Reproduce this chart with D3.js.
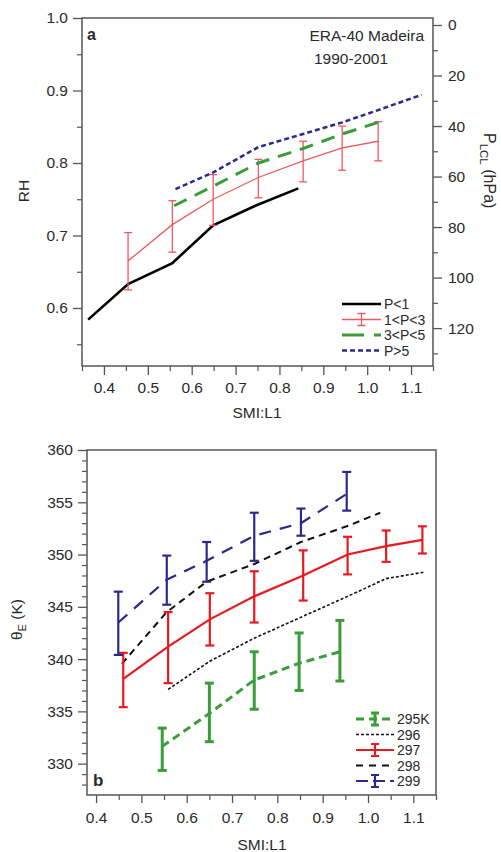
<!DOCTYPE html>
<html>
<head>
<meta charset="utf-8">
<script src="https://cdn.jsdelivr.net/npm/d3@7"></script>
<style>
  body { margin: 0; background: #fff; }
  svg text { font-family: 'Liberation Sans', Arial, sans-serif; fill: #2a2a2a; }
</style>
</head>
<body>
<script>
// ---- panel a: RH vs SMI:L1, split by precip class ----
const aP1X = [0.364, 0.455, 0.556, 0.649, 0.745, 0.843];
const aP1Y = [0.584, 0.633, 0.662, 0.714, 0.741, 0.765];

const aP13X = [0.455, 0.556, 0.649, 0.752, 0.854, 0.943, 1.025];
const aP13Y = [0.665, 0.715, 0.750, 0.780, 0.803, 0.821, 0.830];
const aP13Lo = [0.625, 0.677, 0.714, 0.752, 0.774, 0.790, 0.803];
const aP13Hi = [0.704, 0.748, 0.784, 0.805, 0.830, 0.851, 0.857];

const aP35X = [0.560, 0.649, 0.752, 0.854, 0.943, 1.025];
const aP35Y = [0.741, 0.768, 0.800, 0.820, 0.840, 0.856];

const aP5X = [0.563, 0.649, 0.752, 0.854, 0.943, 1.025, 1.124];
const aP5Y = [0.764, 0.787, 0.822, 0.840, 0.856, 0.873, 0.894];

const aLegend = ['P<1', '1<P<3', '3<P<5', 'P>5'];
const aXTicks = [0.4, 0.5, 0.6, 0.7, 0.8, 0.9, 1.0, 1.1];
const aYTicks = [0.6, 0.7, 0.8, 0.9, 1.0];
const aPTicks = [0, 20, 40, 60, 80, 100, 120];

// ---- panel b: theta_E vs SMI:L1, split by SST ----
const b295X = [0.546, 0.650, 0.749, 0.848, 0.938];
const b295Y = [331.65, 334.8, 338.0, 339.6, 340.7];
const b295Lo = [329.35, 332.1, 335.2, 337.0, 337.9];
const b295Hi = [333.4, 337.7, 340.7, 342.5, 343.7];

const b296X = [0.559, 0.651, 0.749, 0.857, 0.955, 1.040, 1.122];
const b296Y = [337.1, 339.8, 342.0, 344.1, 346.0, 347.7, 348.3];

const b297X = [0.460, 0.559, 0.651, 0.749, 0.857, 0.955, 1.040, 1.120];
const b297Y = [338.1, 341.2, 343.8, 346.0, 348.0, 350.0, 350.8, 351.4];
const b297Lo = [335.4, 337.7, 341.3, 343.5, 345.6, 348.1, 349.3, 350.1];
const b297Hi = [340.6, 344.5, 346.3, 348.4, 350.4, 351.7, 352.3, 352.7];

const b298X = [0.457, 0.556, 0.644, 0.749, 0.852, 0.953, 1.027];
const b298Y = [339.55, 344.5, 347.4, 349.1, 351.2, 352.7, 354.0];

const b299X = [0.449, 0.556, 0.644, 0.749, 0.852, 0.953];
const b299Y = [343.5, 347.6, 349.4, 351.8, 353.0, 355.8];
const b299Lo = [340.4, 345.2, 347.4, 349.4, 351.8, 354.2];
const b299Hi = [346.45, 349.9, 351.2, 354.0, 354.4, 357.9];

const bLegend = ['295K', '296', '297', '298', '299'];
const bXTicks = [0.4, 0.5, 0.6, 0.7, 0.8, 0.9, 1.0, 1.1];
const bYTicks = [330, 335, 340, 345, 350, 355, 360];

const blue = '#2b2a8c';
const green = '#3a9d3a';
const redA = '#ee5a5f';
const redB = '#e8191f';
const frameCol = '#555';

const svg = d3
  .select('body')
  .append('svg')
  .attr('width', 501)
  .attr('height', 852);

const zip = (xs, ys) => xs.map((x, i) => [x, ys[i]]);

function axis(g, ax, size, pad, fmt) {
  g.call(ax.tickSize(size).tickPadding(pad).tickFormat(fmt));
  g.select('.domain').remove();
  g.attr('color', frameCol)
    .attr('font-size', 15.5)
    .attr('font-family', 'Liberation Sans, Arial, sans-serif');
  g.selectAll('.tick line').attr('stroke-width', 1.3);
}

function minorAxis(g, ax, size) {
  g.call(ax.tickSize(size).tickFormat(''));
  g.select('.domain').remove();
  g.attr('color', frameCol);
  g.selectAll('.tick line').attr('stroke-width', 1.2);
}

function drawLine(g, x, y, pts, color, w, dash) {
  g.append('path')
    .datum(pts)
    .attr('fill', 'none')
    .attr('stroke', color)
    .attr('stroke-width', w)
    .attr('stroke-dasharray', dash)
    .attr('d', d3.line().x(d => x(d[0])).y(d => y(d[1])));
}

function drawErr(g, x, y, xs, lo, hi, color, w, cap) {
  xs.forEach((v, i) => {
    const cx = x(v);
    g.append('line')
      .attr('x1', cx).attr('x2', cx)
      .attr('y1', y(lo[i])).attr('y2', y(hi[i]))
      .attr('stroke', color).attr('stroke-width', w);
    [lo[i], hi[i]].forEach(e => {
      g.append('line')
        .attr('x1', cx - cap).attr('x2', cx + cap)
        .attr('y1', y(e)).attr('y2', y(e))
        .attr('stroke', color).attr('stroke-width', w);
    });
  });
}

function legendRow(g, x0, x1, y, label, color, w, dash, errH, errW) {
  g.append('line')
    .attr('x1', x0).attr('x2', x1).attr('y1', y).attr('y2', y)
    .attr('stroke', color).attr('stroke-width', w)
    .attr('stroke-dasharray', dash);
  if (errH) {
    const cx = (x0 + x1) / 2;
    g.append('path')
      .attr('d', `M${cx},${y - errH}V${y + errH}M${cx - 4},${y - errH}H${cx + 4}M${cx - 4},${y + errH}H${cx + 4}`)
      .attr('stroke', color).attr('stroke-width', errW).attr('fill', 'none');
  }
  g.append('text')
    .attr('x', x1 + 3).attr('y', y + 5)
    .attr('font-size', 14)
    .text(label);
}

// ================= panel a =================
const A = { l: 82, t: 18, r: 433, b: 366 };
const xA = d3.scaleLinear().domain([0.35, 1.15]).range([A.l, A.r]);
const yA = d3.scaleLinear().domain([0.52, 1.0]).range([A.b, A.t]);
const pA = d3.scaleLinear().domain([-2.77, 135]).range([A.t, A.b]);

const ga = svg.append('g');

ga.append('g').attr('transform', `translate(${A.l},0)`)
  .call(g => axis(g, d3.axisLeft(yA).tickValues(aYTicks), 9, 5, d3.format('.1f')));
ga.append('g').attr('transform', `translate(${A.l},0)`)
  .call(g => minorAxis(g, d3.axisLeft(yA).tickValues([0.55, 0.65, 0.75, 0.85, 0.95]), 5));

ga.append('g').attr('transform', `translate(0,${A.b})`)
  .call(g => axis(g, d3.axisBottom(xA).tickValues(aXTicks), 9, 7, d3.format('.1f')));
ga.append('g').attr('transform', `translate(0,${A.b})`)
  .call(g => minorAxis(g, d3.axisBottom(xA).tickValues(d3.range(0.35, 1.16, 0.1)), 5));

ga.append('g').attr('transform', `translate(${A.r},0)`)
  .call(g => axis(g, d3.axisRight(pA).tickValues(aPTicks), 9, 6, d3.format('d')));
ga.append('g').attr('transform', `translate(${A.r},0)`)
  .call(g => minorAxis(g, d3.axisRight(pA).tickValues(d3.range(10, 135, 20)), 5));

ga.append('rect')
  .attr('x', A.l).attr('y', A.t)
  .attr('width', A.r - A.l).attr('height', A.b - A.t)
  .attr('fill', 'none').attr('stroke', frameCol).attr('stroke-width', 1.5);

drawLine(ga, xA, yA, zip(aP1X, aP1Y), '#000', 2.6, null);
drawLine(ga, xA, yA, zip(aP13X, aP13Y), redA, 1.3, null);
drawErr(ga, xA, yA, aP13X, aP13Lo, aP13Hi, redA, 1.3, 4);
drawLine(ga, xA, yA, zip(aP35X, aP35Y), green, 3, '14,9');
drawLine(ga, xA, yA, zip(aP5X, aP5Y), blue, 2.5, '5,3');

ga.append('text').attr('x', 87).attr('y', 40)
  .attr('font-size', 16).attr('font-weight', 'bold').text('a');
ga.append('text').attr('x', 424).attr('y', 41)
  .attr('font-size', 15.5).attr('text-anchor', 'end').text('ERA-40 Madeira');
ga.append('text').attr('x', 351).attr('y', 64)
  .attr('font-size', 15.5).attr('text-anchor', 'middle').text('1990-2001');

const legA = ga.append('g');
const aLegStyle = [
  ['#000', 2.6, null, 0, 0],
  [redA, 1.3, null, 6, 1.3],
  [green, 3, '22,10', 0, 0],
  [blue, 2.5, '5,3', 0, 0]
];
aLegend.forEach((lab, i) => {
  const s = aLegStyle[i];
  legendRow(legA, 342, 381, 304 + i * 15.5, lab, s[0], s[1], s[2], s[3], s[4]);
});

svg.append('text')
  .attr('transform', 'translate(29,191) rotate(-90)')
  .attr('text-anchor', 'middle').attr('font-size', 15.5).text('RH');

const pl = svg.append('text')
  .attr('transform', 'translate(484,133) rotate(90)')
  .attr('font-size', 16);
pl.append('tspan').text('P');
pl.append('tspan').attr('dy', 4).attr('font-size', 11.5).text('LCL');
pl.append('tspan').attr('dy', -4).text(' (hPa)');

svg.append('text').attr('x', 257).attr('y', 418)
  .attr('text-anchor', 'middle').attr('font-size', 15.5).text('SMI:L1');

// ================= panel b =================
const B = { l: 87, t: 450, r: 436, b: 795 };
const xB = d3.scaleLinear().domain([0.38, 1.15]).range([B.l, B.r]);
const yB = d3.scaleLinear().domain([327, 360]).range([B.b, B.t]);

const gb = svg.append('g');

gb.append('g').attr('transform', `translate(${B.l},0)`)
  .call(g => axis(g, d3.axisLeft(yB).tickValues(bYTicks), 9, 5, d3.format('d')));
gb.append('g').attr('transform', `translate(${B.l},0)`)
  .call(g => minorAxis(g, d3.axisLeft(yB).tickValues(d3.range(328, 360).filter(v => v % 5)), 5));

gb.append('g').attr('transform', `translate(0,${B.b})`)
  .call(g => axis(g, d3.axisBottom(xB).tickValues(bXTicks), 8, 9, d3.format('.1f')));
gb.append('g').attr('transform', `translate(0,${B.b})`)
  .call(g => minorAxis(g, d3.axisBottom(xB).tickValues(d3.range(0.45, 1.16, 0.1)), 5));

gb.append('rect')
  .attr('x', B.l).attr('y', B.t)
  .attr('width', B.r - B.l).attr('height', B.b - B.t)
  .attr('fill', 'none').attr('stroke', frameCol).attr('stroke-width', 1.5);

drawLine(gb, xB, yB, zip(b296X, b296Y), '#111', 1.6, '3,2');
drawLine(gb, xB, yB, zip(b298X, b298Y), '#111', 2, '7,5');
drawLine(gb, xB, yB, zip(b297X, b297Y), redB, 2.2, null);
drawErr(gb, xB, yB, b297X, b297Lo, b297Hi, redB, 2.2, 4.5);
drawLine(gb, xB, yB, zip(b295X, b295Y), green, 3, '8,5');
drawErr(gb, xB, yB, b295X, b295Lo, b295Hi, green, 3, 4.5);
drawLine(gb, xB, yB, zip(b299X, b299Y), blue, 2.2, '12,9');
drawErr(gb, xB, yB, b299X, b299Lo, b299Hi, blue, 2.2, 4.5);

gb.append('text').attr('x', 93).attr('y', 786)
  .attr('font-size', 17).attr('font-weight', 'bold').text('b');

const legB = gb.append('g');
const bLegStyle = [
  [green, 3, '8,5', 6, 3],
  ['#111', 1.6, '3,2', 0, 0],
  [redB, 2.2, null, 6, 2.2],
  ['#111', 2, '7,6', 0, 0],
  [blue, 2.2, '12,5', 6, 2.2]
];
bLegend.forEach((lab, i) => {
  const s = bLegStyle[i];
  legendRow(legB, 356, 394, 719 + i * 15.5, lab, s[0], s[1], s[2], s[3], s[4]);
});

const th = svg.append('text')
  .attr('transform', 'translate(22,640) rotate(-90)')
  .attr('font-size', 15.5);
th.append('tspan').text('θ');
th.append('tspan').attr('dy', 4).attr('font-size', 11).text('E');
th.append('tspan').attr('dy', -4).text(' (K)');

svg.append('text').attr('x', 262).attr('y', 850)
  .attr('text-anchor', 'middle').attr('font-size', 15.5).text('SMI:L1');
</script>
</body>
</html>
